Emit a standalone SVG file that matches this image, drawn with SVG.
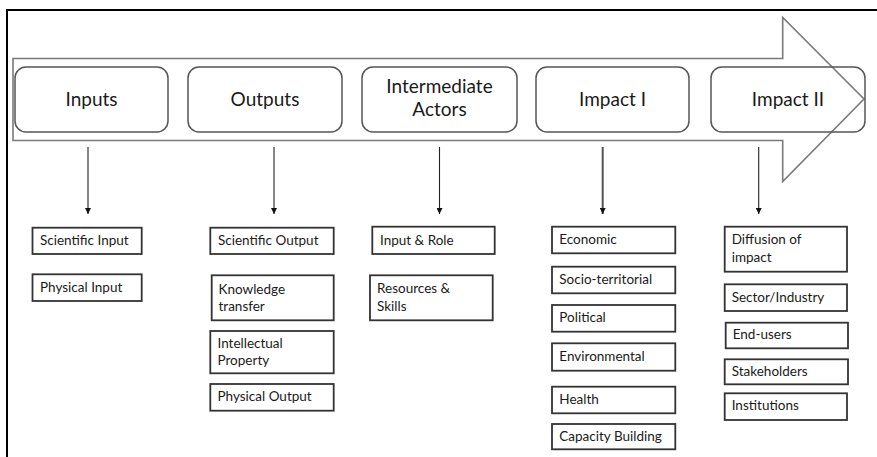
<svg xmlns="http://www.w3.org/2000/svg" width="877" height="457" viewBox="0 0 877 457">
<defs>
<marker id="ah" viewBox="0 0 10 10" refX="10" refY="5" markerWidth="6" markerHeight="6" markerUnits="userSpaceOnUse" orient="auto">
<path d="M0,0 L10,5 L0,10 Z" fill="#111"/>
</marker>
<style>
.frame{fill:none;stroke:#000;stroke-width:2}
.arrow{fill:#fff;stroke:#7a7a7a;stroke-width:1.6}
.stage rect{fill:none;stroke:#555;stroke-width:1.5}
.stage text{font-family:Lato,"Open Sans",sans-serif;font-size:19px;fill:#1a1a1a;text-anchor:middle}
.item rect{fill:#fff;stroke:#333;stroke-width:1.8}
.item text{font-family:Lato,"Open Sans",sans-serif;font-size:13.5px;fill:#1a1a1a}
.conn line{stroke:#222;stroke-width:1.1;marker-end:url(#ah)}
</style>
</defs>
<rect width="877" height="457" fill="#fff"/>
<path class="frame" d="M7,457 V10 H877"/>
<polygon class="arrow" points="13,58.5 782.7,58.5 782.7,17.5 864,99 782.7,181.5 782.7,140.5 13,140.5"/>

<g id="stage-inputs" class="stage"><rect x="15" y="67" width="153" height="65" rx="11"/><text x="91.5" y="106">Inputs</text></g>
<g id="stage-outputs" class="stage"><rect x="188" y="67" width="154" height="65" rx="11"/><text x="265" y="106">Outputs</text></g>
<g id="stage-intermediate" class="stage"><rect x="362" y="67" width="155" height="65" rx="11"/><text x="439.5" y="93">Intermediate</text><text x="439.5" y="116">Actors</text></g>
<g id="stage-impact1" class="stage"><rect x="536" y="67" width="153" height="65" rx="11"/><text x="612.5" y="106">Impact I</text></g>
<g id="stage-impact2" class="stage"><rect x="711" y="67" width="154" height="65" rx="11"/><text x="788" y="106">Impact II</text></g>

<g id="connectors" class="conn">
<line x1="88" y1="147" x2="88" y2="214"/>
<line x1="274" y1="147" x2="274" y2="214"/>
<line x1="439.5" y1="147" x2="439.5" y2="214"/>
<line x1="602.7" y1="147" x2="602.7" y2="214" style="stroke:#555;stroke-width:2"/>
<line x1="758.7" y1="147" x2="758.7" y2="214"/>
</g>

<g id="item-scientific-input" class="item"><rect x="32.5" y="227.7" width="109.2" height="26.3"/><text x="40" y="245">Scientific Input</text></g>
<g id="item-physical-input" class="item"><rect x="32.5" y="274.3" width="109.2" height="26.7"/><text x="40" y="292">Physical Input</text></g>

<g id="item-scientific-output" class="item"><rect x="210.3" y="227.7" width="123.4" height="26.3"/><text x="218" y="245">Scientific Output</text></g>
<g id="item-knowledge-transfer" class="item"><rect x="211.7" y="275.3" width="122" height="45"/><text x="218.5" y="294">Knowledge</text><text x="218.5" y="311">transfer</text></g>
<g id="item-intellectual-property" class="item"><rect x="210.3" y="331" width="123.4" height="42.3"/><text x="217.5" y="348.3">Intellectual</text><text x="217.5" y="365">Property</text></g>
<g id="item-physical-output" class="item"><rect x="210.3" y="384" width="123.4" height="26.7"/><text x="217.5" y="401">Physical Output</text></g>

<g id="item-input-role" class="item"><rect x="372.3" y="226.7" width="122.4" height="27.3"/><text x="380" y="245">Input &amp; Role</text></g>
<g id="item-resources-skills" class="item"><rect x="370" y="275.3" width="122.7" height="45"/><text x="377" y="293.3">Resources &amp;</text><text x="377" y="310.7">Skills</text></g>

<g id="item-economic" class="item"><rect x="552" y="226.7" width="123.3" height="26.6"/><text x="559.3" y="244.3">Economic</text></g>
<g id="item-socio-territorial" class="item"><rect x="552" y="266.7" width="123.3" height="26.6"/><text x="559.3" y="284.3">Socio-territorial</text></g>
<g id="item-political" class="item"><rect x="552" y="305" width="123.3" height="26.7"/><text x="559.3" y="322">Political</text></g>
<g id="item-environmental" class="item"><rect x="552" y="343.3" width="123.3" height="27.4"/><text x="559.3" y="361">Environmental</text></g>
<g id="item-health" class="item"><rect x="552" y="386.7" width="123.3" height="26.6"/><text x="559.3" y="404">Health</text></g>
<g id="item-capacity-building" class="item"><rect x="552" y="424" width="123.3" height="25.3"/><text x="559.3" y="440.7">Capacity Building</text></g>

<g id="item-diffusion" class="item"><rect x="724.7" y="226.7" width="122.3" height="45"/><text x="731.7" y="244.3">Diffusion of</text><text x="731.7" y="262.3">impact</text></g>
<g id="item-sector-industry" class="item"><rect x="724.7" y="284.3" width="122.3" height="26.7"/><text x="731.7" y="301.7">Sector/Industry</text></g>
<g id="item-end-users" class="item"><rect x="725.7" y="322.7" width="122.3" height="25.6"/><text x="732.7" y="339.3">End-users</text></g>
<g id="item-stakeholders" class="item"><rect x="724.7" y="359.3" width="123.3" height="25"/><text x="731.7" y="376">Stakeholders</text></g>
<g id="item-institutions" class="item"><rect x="724.7" y="393.3" width="122.3" height="26.7"/><text x="731.7" y="410">Institutions</text></g>
</svg>
